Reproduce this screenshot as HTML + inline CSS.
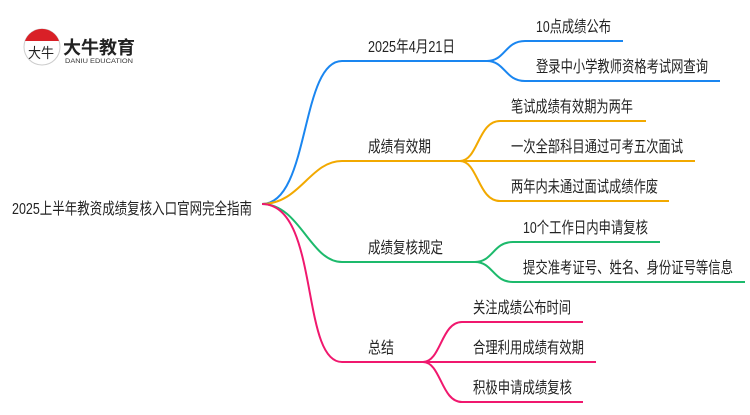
<!DOCTYPE html>
<html><head><meta charset="utf-8"><style>
body{margin:0;background:#fff;}
svg text{font-family:"Liberation Sans","Noto Sans CJK SC",sans-serif;font-size:16px;fill:#222;}
</style></head><body>
<svg width="750" height="410" viewBox="0 0 750 410" xmlns="http://www.w3.org/2000/svg">
<g fill="none" stroke-width="2">
<path d="M262 204 C310 204 300 61 342 61 L487 61" stroke="#1a86f0"/>
<path d="M487 61 C505 61 505 41 525 41 L623 41 M487 61 C505 61 505 81 525 81 L720 81" stroke="#1a86f0"/>
<path d="M262 204 C300 204 310 161 342 161 L460 161" stroke="#f2a900"/>
<path d="M460 161 C478 161 478 121 500 121 L646 121 M460 161 L695 161 M460 161 C478 161 478 201 500 201 L669 201" stroke="#f2a900"/>
<path d="M262 204 C300 204 310 262 342 262 L475 262" stroke="#1dba6c"/>
<path d="M475 262 C493 262 493 242 513 242 L660 242 M475 262 C493 262 493 282 513 282 L745 282" stroke="#1dba6c"/>
<path d="M262 204 C320 204 300 362 342 362 L423 362" stroke="#f0186e"/>
<path d="M423 362 C441 362 441 322 462 322 L583 322 M423 362 L596 362 M423 362 C441 362 441 402 462 402 L583 402" stroke="#f0186e"/>
</g>
<circle cx="42" cy="47" r="18" fill="#fff" stroke="#ccc"/>
<path d="M25 41 A18 18 0 0 1 59 41 Z" fill="#d92027"/>
<text x="28" y="58" style="font-size:14px" textLength="26" lengthAdjust="spacingAndGlyphs">大牛</text>
<text x="63" y="54" style="font-size:18px;font-weight:bold;fill:#222" textLength="72" lengthAdjust="spacingAndGlyphs">大牛教育</text>
<text x="65" y="63" style="font-size:6px;fill:#333" textLength="68" lengthAdjust="spacingAndGlyphs">DANIU EDUCATION</text>
<text x="12" y="214" textLength="240" lengthAdjust="spacingAndGlyphs">2025上半年教资成绩复核入口官网完全指南</text>
<text x="368" y="52" textLength="87" lengthAdjust="spacingAndGlyphs">2025年4月21日</text>
<text x="368" y="152" textLength="63" lengthAdjust="spacingAndGlyphs">成绩有效期</text>
<text x="368" y="253" textLength="75" lengthAdjust="spacingAndGlyphs">成绩复核规定</text>
<text x="368" y="353" textLength="26" lengthAdjust="spacingAndGlyphs">总结</text>
<text x="536" y="32" textLength="75" lengthAdjust="spacingAndGlyphs">10点成绩公布</text>
<text x="536" y="72" textLength="172" lengthAdjust="spacingAndGlyphs">登录中小学教师资格考试网查询</text>
<text x="511" y="112" textLength="122" lengthAdjust="spacingAndGlyphs">笔试成绩有效期为两年</text>
<text x="511" y="152" textLength="172" lengthAdjust="spacingAndGlyphs">一次全部科目通过可考五次面试</text>
<text x="511" y="192" textLength="147" lengthAdjust="spacingAndGlyphs">两年内未通过面试成绩作废</text>
<text x="523" y="233" textLength="125" lengthAdjust="spacingAndGlyphs">10个工作日内申请复核</text>
<text x="523" y="273" textLength="210" lengthAdjust="spacingAndGlyphs">提交准考证号、姓名、身份证号等信息</text>
<text x="473" y="313" textLength="98" lengthAdjust="spacingAndGlyphs">关注成绩公布时间</text>
<text x="473" y="353" textLength="111" lengthAdjust="spacingAndGlyphs">合理利用成绩有效期</text>
<text x="473" y="393" textLength="99" lengthAdjust="spacingAndGlyphs">积极申请成绩复核</text>
</svg>
</body></html>
